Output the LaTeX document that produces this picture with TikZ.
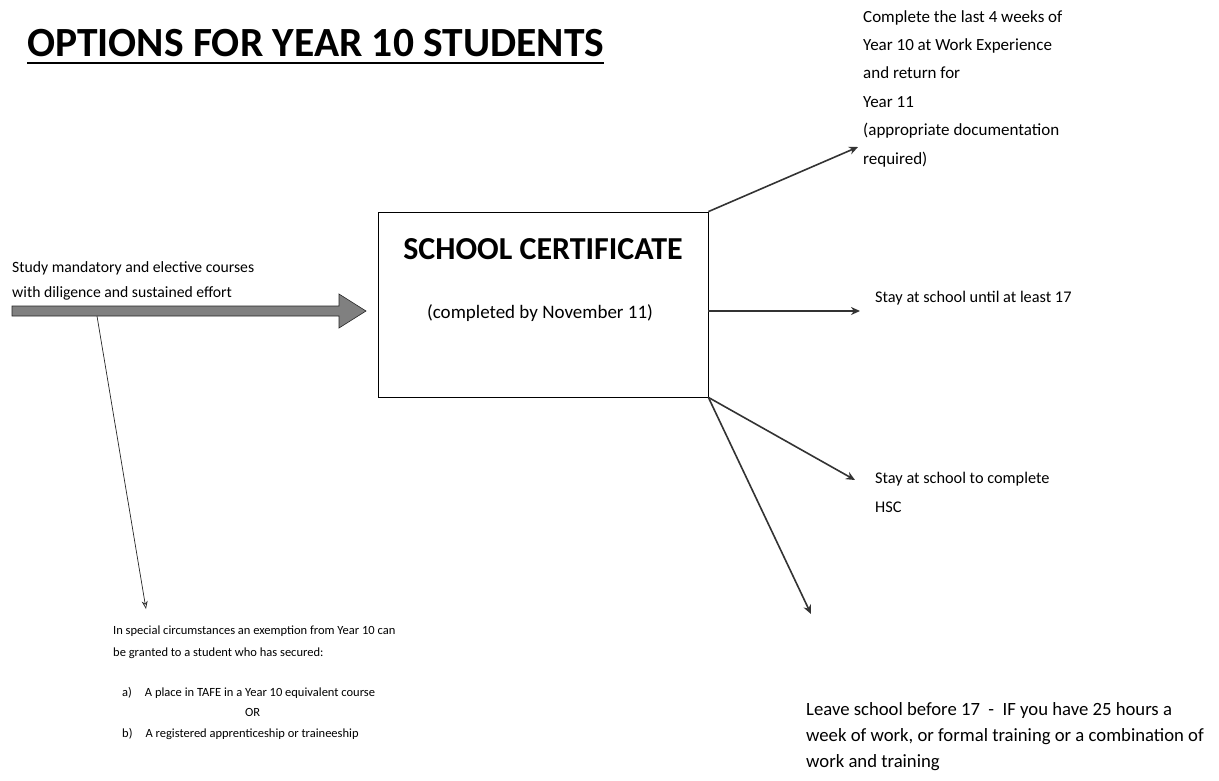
\documentclass[tikz,border=0pt]{standalone}
\usepackage{fontspec}
\setmainfont{Carlito}
\usetikzlibrary{arrows.meta}
\tikzset{
  txt/.style={anchor=north west, inner sep=0pt, align=left},
  flow/.style={draw=black!80, line width=1.6pt, -{Stealth[length=9pt,width=8pt,fill=black!45]}},
  thin flow/.style={draw=black!85, line width=0.7pt, -{Stealth[length=8pt,width=6pt,open]}},
}
\newcommand{\fs}[2]{\fontsize{#1}{#2}\selectfont}
\begin{document}
\begin{tikzpicture}[x=1pt, y=-1pt]
  \useasboundingbox (0,0) rectangle (1219,780);
  %Titre
  \node[anchor=base west, inner sep=0pt, font=\fs{41.5}{46}\bfseries] (title) at (27,56) {OPTIONS FOR YEAR 10 STUDENTS};
  \draw[line width=2.4pt] ([yshift=-7pt]title.base west) -- ([yshift=-7pt]title.base east);
  %Boite centrale
  \node[draw, line width=0.8pt, minimum width=330pt, minimum height=185pt, inner sep=0pt] (SC) at (543,304.5) {};
  \node[font=\fs{32}{34}\bfseries] (SCt) at (543,249) {SCHOOL CERTIFICATE};
  \node[font=\fs{19}{22}] (SCs) at (540,313) {(completed by November 11)};
  %Entree
  \node[txt, font=\fs{15.7}{25}] (study) at (12,261) {Study mandatory and elective courses\\with diligence and sustained effort};
  \coordinate (in0) at (12,311);
  \coordinate (in1) at (366,311);
  \draw[draw=black!85, fill=black!50, line width=0.6pt]
    (in0)++(0,-5) -- ++(327,0) -- ++(0,-12) -- (in1) -- ++(-27,17) -- ++(0,-12) -- ++(-327,0) -- cycle;
  \coordinate (ex0) at (97,316);
  \node[txt, font=\fs{12.5}{22}] (exempt) at (113,626) {In special circumstances an exemption from Year 10 can\\be granted to a student who has secured:};
  \node[txt, font=\fs{12.5}{20.5}] (optA) at (122,687) {a)\hspace{13pt}A place in TAFE in a Year 10 equivalent course};
  \node[txt, font=\fs{12.5}{20.5}] (optOR) at (245,708) {OR};
  \node[txt, font=\fs{12.5}{20.5}] (optB) at (122,728) {b)\hspace{13pt}A registered apprenticeship or traineeship};
  \coordinate (ex1) at (146,609);
  \draw[thin flow] (ex0) -- (ex1);
  %Sorties
  \node[txt, font=\fs{17}{28.4}] (work) at (863,10) {Complete the last 4 weeks of\\Year 10 at Work Experience\\and return for\\Year 11\\(appropriate documentation\\required)};
  \node[txt, font=\fs{16.3}{29}] (stay17) at (875,291) {Stay at school until at least 17};
  \node[txt, font=\fs{16.3}{29}] (hsc) at (875,472) {Stay at school to complete\\HSC};
  \node[txt, font=\fs{18.7}{26}] (leave) at (806,702) {Leave school before 17\ \ -\ \ IF you have 25 hours a\\week of work, or formal training or a combination of\\work and training};
  \coordinate (s17) at (860,311);
  \draw[flow] (SC.north east) -- (858,147);
  \draw[flow] (s17 -| SC.east) -- (s17);
  \draw[flow] (SC.south east) -- (855,480);
  \draw[flow] (SC.south east) -- (811,614);
\end{tikzpicture}
\end{document}
